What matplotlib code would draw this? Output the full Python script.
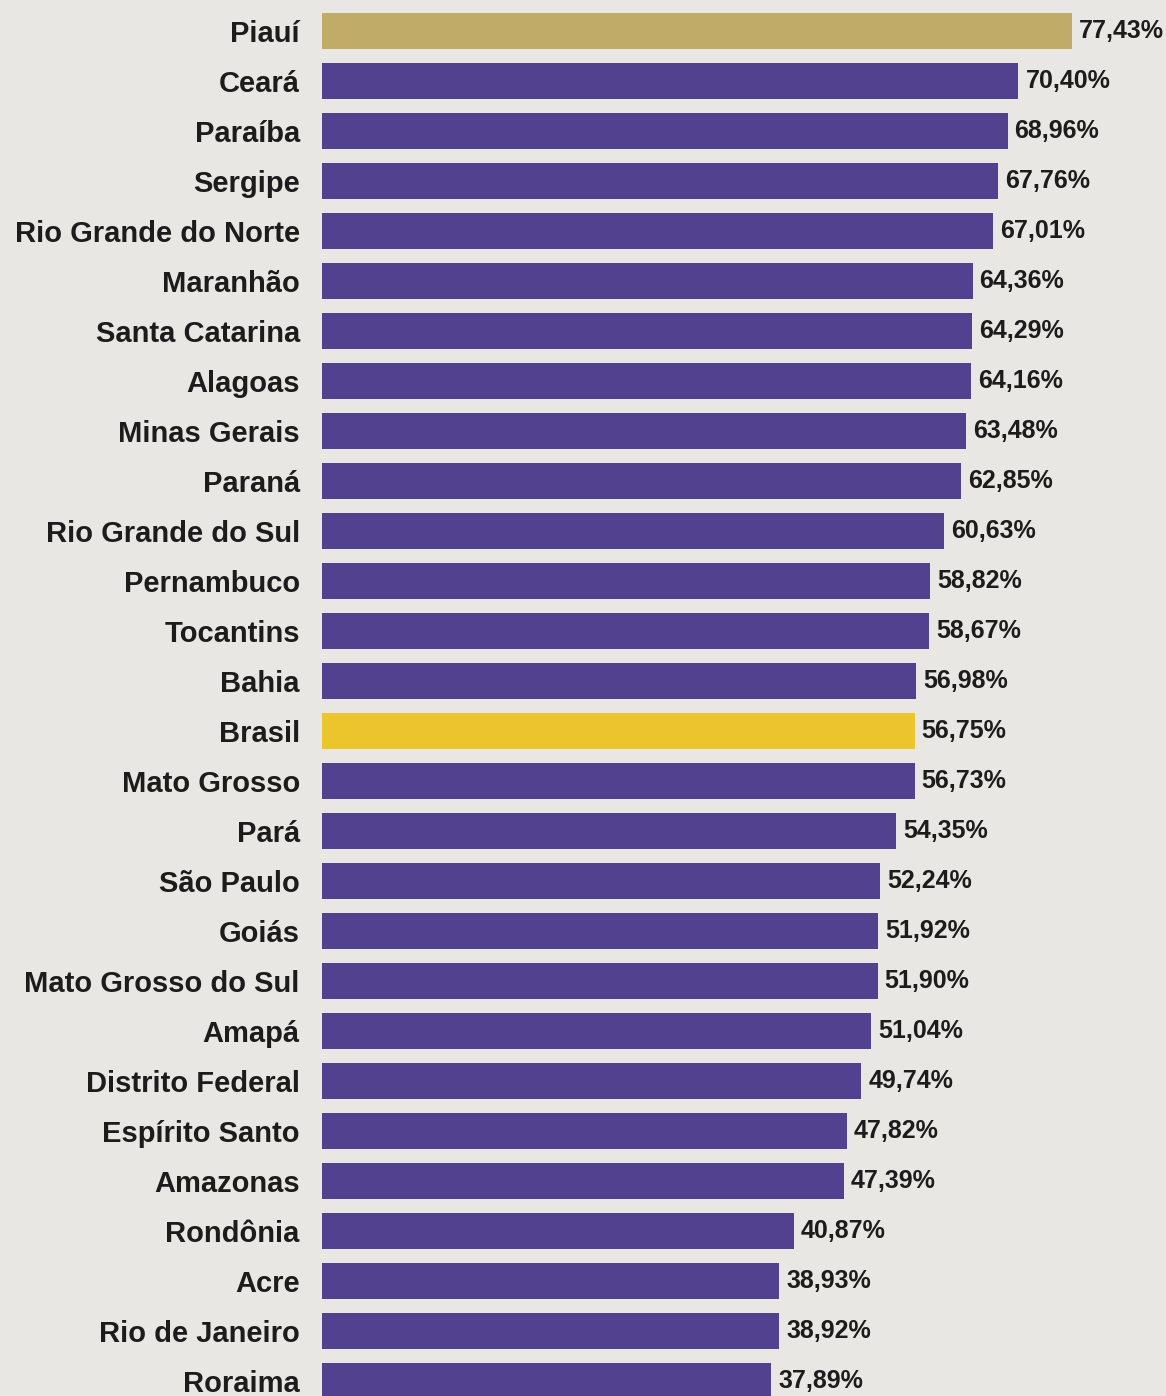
import matplotlib
matplotlib.use("Agg")
import matplotlib.pyplot as plt

states = ["Piauí", "Ceará", "Paraíba", "Sergipe", "Rio Grande do Norte", "Maranhão",
          "Santa Catarina", "Alagoas", "Minas Gerais", "Paraná", "Rio Grande do Sul",
          "Pernambuco", "Tocantins", "Bahia", "Brasil", "Mato Grosso", "Pará",
          "São Paulo", "Goiás", "Mato Grosso do Sul", "Amapá", "Distrito Federal",
          "Espírito Santo", "Amazonas", "Rondônia", "Acre", "Rio de Janeiro", "Roraima"]
values = [77.43, 70.40, 68.96, 67.76, 67.01, 64.36, 64.29, 64.16, 63.48, 62.85, 60.63,
          58.82, 58.67, 56.98, 56.75, 56.73, 54.35, 52.24, 51.92, 51.90, 51.04, 49.74,
          47.82, 47.39, 40.87, 38.93, 38.92, 37.89]

PURPLE = "#51418e"
GOLD = "#c0ab68"
YELLOW = "#ecc42c"
BG = "#e8e7e4"
TXT = "#1c1c1c"

colors = []
for s in states:
    if s == "Piauí":
        colors.append(GOLD)
    elif s == "Brasil":
        colors.append(YELLOW)
    else:
        colors.append(PURPLE)

# truncated axis (bars start at this baseline in the original graphic)
XMIN, XMAX = -21.2, 89.8

W, H = 1166, 1396
fig = plt.figure(figsize=(W / 100, H / 100), dpi=100, facecolor=BG)
ax = fig.add_axes([322 / W, 0, 1 - 322 / W, 1])
ax.set_facecolor(BG)

ypos = list(range(len(states)))
widths = [v - XMIN for v in values]
ax.barh(ypos, widths, left=XMIN, height=0.72, color=colors)

ax.set_xlim(XMIN, XMAX)
ax.set_ylim(27.3, -0.62)

ax.set_yticks(ypos)
ax.set_yticklabels(states, fontsize=21, fontweight="bold", color=TXT,
                   family=["Liberation Sans", "DejaVu Sans"])
ax.tick_params(axis="y", length=0, pad=16)
ax.set_xticks([])
for sp in ax.spines.values():
    sp.set_visible(False)

for y, v in zip(ypos, values):
    lbl = f"{v:.2f}".replace(".", ",") + "%"
    ax.annotate(lbl, xy=(v, y), xytext=(5, 0), textcoords="offset points",
                ha="left", va="center", fontsize=18, fontweight="bold", color=TXT,
                family=["Liberation Sans", "DejaVu Sans"], annotation_clip=False)

fig.savefig("out.png", dpi=100, facecolor=BG)
